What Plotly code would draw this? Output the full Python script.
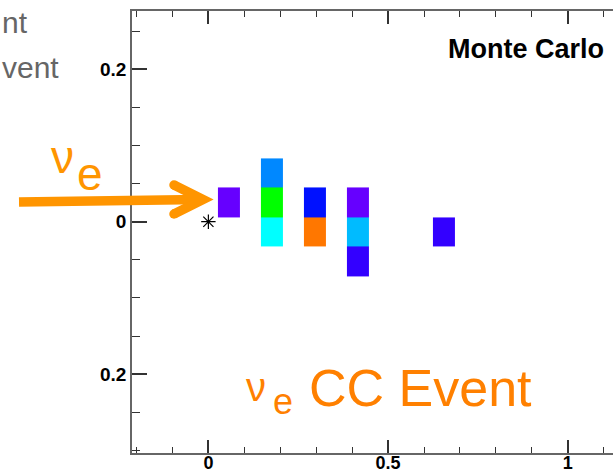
import plotly.graph_objects as go

# ---- event data -------------------------------------------------------
# plane positions along the beam (x) and strip positions (y), in metres
plane_x = [0.0584, 0.1780, 0.2976, 0.4172, 0.5368, 0.6564]
strip_y = [-0.0520, -0.0131, 0.0256, 0.0639]

# normalised charge per hit (rows follow strip_y, columns follow plane_x)
charge = [
    [None,   None,   None,   0.0668, None, None],
    [None,   0.3333, 0.8963, 0.2741, None, 0.0668],
    [0.0226, 0.5556, 0.1259, 0.0226, None, None],
    [None,   0.2296, None,   None,   None, None],
]

# interaction vertex
vertex_x = [0.0]
vertex_y = [0.0]

# axis ticks
x_tickvals = [0, 0.5, 1]
x_ticktext = ["0", "0.5", "1"]
y_tickvals = [-0.2, 0, 0.2]
y_ticktext = ["0.2", "0", "0.2"]

# ---- layout geometry ---------------------------------------------------
W, H = 613, 476
ML, MR, MT, MB = 132, 0, 11, 23
PW, PH = W - ML - MR, H - MT - MB


def xp(p):
    """pixel column -> paper x"""
    return (p - ML) / PW


def yp(p):
    """pixel row -> paper y"""
    return (H - MB - p) / PH


FONT = "Liberation Sans, Arial, Helvetica, sans-serif"
ORANGE = "#FF8000"
ARROW = "#FF9500"

# rainbow palette: violet -> blue -> cyan -> green -> yellow -> red
palette = [
    [0.0, "#8000FF"],
    [1 / 9, "#0000FF"],
    [1 / 3, "#00FFFF"],
    [5 / 9, "#00FF00"],
    [7 / 9, "#FFFF00"],
    [1.0, "#FF0000"],
]

fig = go.Figure()

fig.add_trace(go.Heatmap(
    x=plane_x, y=strip_y, z=charge,
    colorscale=palette, zmin=0, zmax=1, showscale=False,
    xgap=21, ygap=0, hoverinfo="skip",
))

fig.add_trace(go.Scatter(
    x=vertex_x, y=vertex_y, mode="markers",
    marker=dict(symbol="asterisk-open", size=12, color="black",
                line=dict(color="black", width=1.2)),
    hoverinfo="skip", cliponaxis=False,
))

axis_common = dict(
    showgrid=False, zeroline=False, showline=True, automargin=False,
    linecolor="#666666", linewidth=1.5,
    ticks="inside", tickcolor="#333333", tickwidth=1.5,
    tickfont=dict(family=FONT, size=19, color="black", weight="bold"),
)

fig.update_xaxes(
    range=[-0.2125, 1.1257], tickvals=x_tickvals, ticktext=x_ticktext,
    ticklen=13, mirror="ticks", ticklabelstandoff=-7,
    minor=dict(dtick=0.1, tick0=0, ticklen=6.5, ticks="inside",
               tickcolor="#333333", tickwidth=1.2),
    **axis_common,
)
fig.update_xaxes(tickfont_size=18)
fig.update_yaxes(
    range=[-0.3035, 0.2765], tickvals=y_tickvals, ticktext=y_ticktext,
    ticklen=15, mirror=False, ticklabelstandoff=0,
    minor=dict(dtick=0.05, tick0=0, ticklen=8, ticks="inside",
               tickcolor="#333333", tickwidth=1.2),
    **axis_common,
)

# ---- incoming neutrino arrow --------------------------------------------
shapes = [
    dict(type="line", xref="paper", yref="paper",
         x0=xp(19), y0=yp(202), x1=xp(200), y1=yp(199.6),
         line=dict(color=ARROW, width=9.5)),
    dict(type="path", xref="paper", yref="paper",
         path=(f"M {xp(174)} {yp(185)} L {xp(203)} {yp(199.5)} "
               f"L {xp(174)} {yp(214)}"),
         line=dict(color=ARROW, width=9.5)),
]
for cx, cy in [(174, 185), (174, 214)]:
    r = 4.75
    shapes.append(dict(type="circle", xref="paper", yref="paper",
                       x0=xp(cx - r), x1=xp(cx + r), y0=yp(cy + r), y1=yp(cy - r),
                       fillcolor=ARROW, line=dict(width=0)))

annotations = [
    dict(text="nt", x=xp(0), y=yp(22), xanchor="left", yanchor="middle",
         font=dict(family=FONT, size=30, color="#666666")),
    dict(text="vent", x=xp(0), y=yp(67), xanchor="left", yanchor="middle",
         font=dict(family=FONT, size=30, color="#666666")),
    dict(text="Monte Carlo", x=xp(606), y=yp(49), xanchor="right", yanchor="middle",
         font=dict(family=FONT, size=27, color="black", weight="bold")),
    # arrow label
    dict(text="ν", x=xp(62), y=yp(157), xanchor="center", yanchor="middle",
         font=dict(family=FONT, size=46, color=ARROW)),
    dict(text="e", x=xp(90), y=yp(174), xanchor="center", yanchor="middle",
         font=dict(family=FONT, size=46, color=ARROW)),
    # event label
    dict(text="ν", x=xp(256), y=yp(387), xanchor="center", yanchor="middle",
         font=dict(family=FONT, size=40, color=ORANGE)),
    dict(text="e", x=xp(283), y=yp(401), xanchor="center", yanchor="middle",
         font=dict(family=FONT, size=36, color=ORANGE)),
    dict(text="CC Event", x=xp(307), y=yp(388), xanchor="left", yanchor="middle",
         font=dict(family=FONT, size=52, color=ORANGE)),
]
for a in annotations:
    a.update(xref="paper", yref="paper", showarrow=False)

fig.update_layout(
    width=W, height=H,
    margin=dict(l=ML, r=MR, t=MT, b=MB),
    paper_bgcolor="white", plot_bgcolor="white",
    showlegend=False,
    shapes=shapes, annotations=annotations,
)

fig.write_html("out.html")
